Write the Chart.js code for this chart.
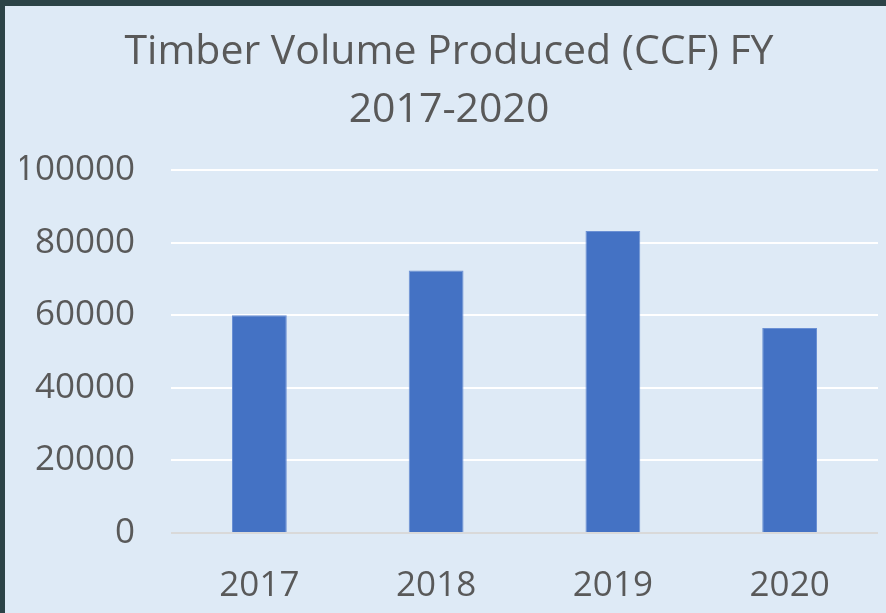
<!DOCTYPE html>
<html>
<head>
<meta charset="utf-8">
<script src="https://cdn.jsdelivr.net/npm/chart.js@4"></script>
<style>
  html, body { margin: 0; padding: 0; }
  body { width: 886px; height: 613px; background: #2c4347; overflow: hidden; position: relative; }
  #wrap { position: absolute; left: 5px; top: 6px; width: 881px; height: 607px; background: #deeaf6; }
</style>
</head>
<body>
<div id="wrap"><canvas id="timberChart" width="881" height="607"></canvas></div>
<script>
const years = ['2017', '2018', '2019', '2020'];
const volumeCCF = [60000, 72300, 83200, 56500];
const titleLines = ['Timber Volume Produced (CCF) FY', '2017-2020'];

const textColor = '#595959';
const fontFamily = '"Open Sans", sans-serif';

document.addEventListener('DOMContentLoaded', function() {
    const ctx = document.getElementById('timberChart').getContext('2d');
    new Chart(ctx, {
        type: 'bar',
        data: {
            labels: years,
            datasets: [{
                label: 'Timber Volume Produced (CCF)',
                data: volumeCCF,
                backgroundColor: '#4472c4',
                borderColor: '#6b90d4',
                borderWidth: 1,
                categoryPercentage: 1,
                barPercentage: 0.31
            }]
        },
        options: {
            responsive: false,
            animation: false,
            layout: { padding: { left: 15, right: 8, top: 0, bottom: 0 } },
            plugins: {
                legend: { display: false },
                tooltip: { enabled: false },
                title: {
                    display: true,
                    text: titleLines,
                    color: textColor,
                    font: { family: fontFamily, size: 41, weight: 'normal', lineHeight: 58 / 41 },
                    padding: { top: 17, bottom: 31 }
                }
            },
            scales: {
                y: {
                    min: 0,
                    max: 100000,
                    ticks: {
                        stepSize: 20000,
                        color: textColor,
                        font: { family: fontFamily, size: 35 },
                        padding: 36,
                        callback: v => String(v)
                    },
                    grid: {
                        drawTicks: false,
                        lineWidth: 2,
                        color: c => c.tick && c.tick.value === 0 ? '#d9d9d9' : '#ffffff'
                    },
                    border: { display: false },
                    afterFit: scale => { scale.width = 151; }
                },
                x: {
                    ticks: {
                        color: textColor,
                        font: { family: fontFamily, size: 35 },
                        padding: 32
                    },
                    grid: { display: false, drawTicks: false },
                    border: { display: false },
                    afterFit: scale => { scale.height = 80; }
                }
            }
        }
    });
});
</script>
</body>
</html>
